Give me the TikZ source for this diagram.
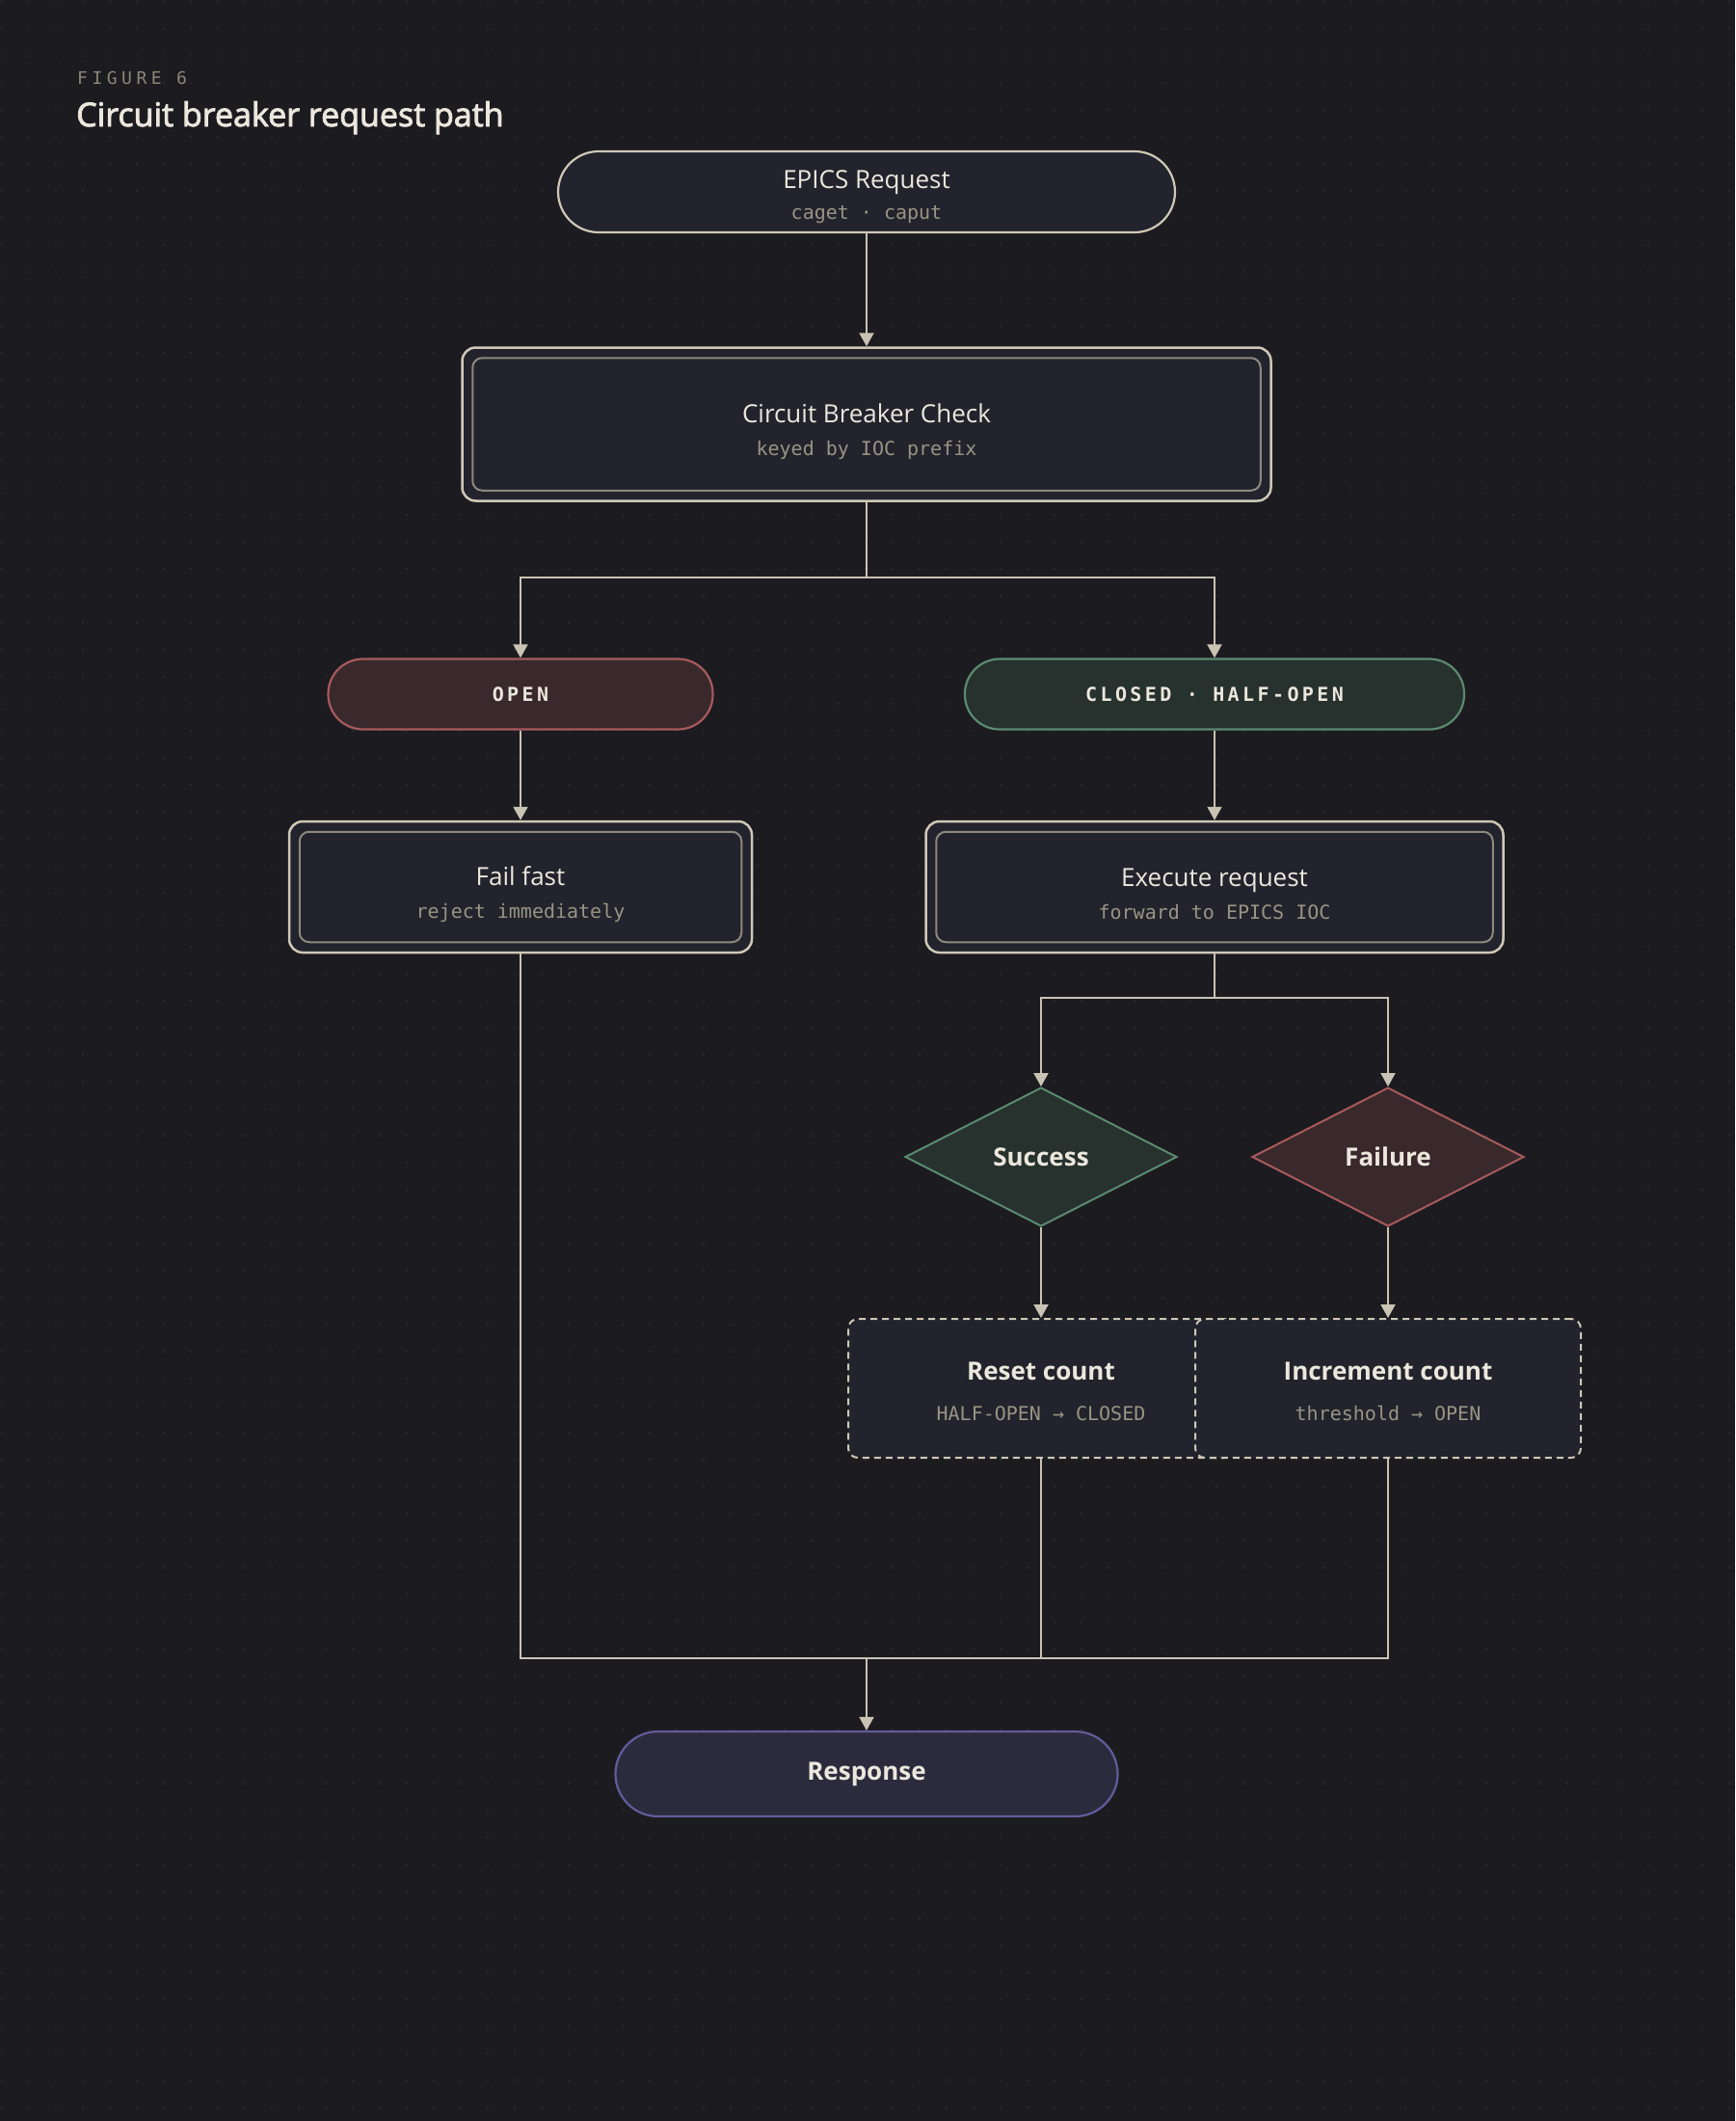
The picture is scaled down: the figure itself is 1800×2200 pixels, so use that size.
\documentclass[tikz,border=0pt]{standalone}
\usepackage{fontspec}
\setmainfont{Open Sans}
\setmonofont{DejaVu Sans Mono}
\usetikzlibrary{arrows.meta,positioning,shapes.geometric}

\definecolor{bgc}{HTML}{1C1B20}
\definecolor{dotc}{HTML}{2A2A31}
\definecolor{ink}{HTML}{ECE7DD}
\definecolor{muted}{HTML}{9A9484}
\definecolor{figc}{HTML}{8C8678}
\definecolor{rim}{HTML}{CFC8B7}
\definecolor{rimin}{HTML}{8E897F}
\definecolor{wire}{HTML}{C9C3B3}
\definecolor{boxfill}{HTML}{22232C}
\definecolor{redfill}{HTML}{3A292C}
\definecolor{redrim}{HTML}{A65A5C}
\definecolor{grnfill}{HTML}{27312E}
\definecolor{grnrim}{HTML}{5B8A6F}
\definecolor{viofill}{HTML}{2C2B3E}
\definecolor{viorim}{HTML}{625C9B}

\newcommand{\labfont}{\fontsize{26}{36}\selectfont}
\newcommand{\subfont}{\ttfamily\fontsize{20}{36}\selectfont\color{muted}}
\newcommand{\tagfont}{\ttfamily\bfseries\fontsize{20}{24}\selectfont\addfontfeature{LetterSpace=17}}

\begin{document}
\begin{tikzpicture}[
  x=1pt, y=-1pt,
  pill/.style={rectangle, rounded corners=#1, draw, line width=2.2pt, inner sep=0pt, text=ink, align=center, font=\labfont},
  dblbox/.style={rectangle, rounded corners=14pt, draw=rim, fill=boxfill, line width=2.5pt, inner sep=0pt},
  innerrim/.style={draw=rimin, line width=2pt, rounded corners=10pt},
  txt/.style={inner sep=0pt, text=ink, align=center, font=\labfont},
  choice/.style={diamond, draw, line width=2pt, inner sep=0pt, minimum width=282pt, minimum height=144pt, text=ink, font=\labfont\bfseries},
  tally/.style={rectangle, rounded corners=10pt, draw=rim, fill=boxfill, dash pattern=on 7pt off 5pt, line width=2pt, inner sep=0pt, minimum width=400pt, minimum height=144pt},
  line/.style={draw=wire, line width=2pt},
  arrow/.style={line, -{Triangle[length=14pt,width=15pt]}}
]
\useasboundingbox (0,0) rectangle (1800,2200);
\fill[bgc] (0,0) rectangle (1800,2200);
% dot grid
\foreach \i in {0,...,64}{
  \foreach \j in {0,...,78}{
    \fill[dotc] (2+28*\i,2+28*\j) circle (1.3);
  }
}

% heading
\node[anchor=base west, inner sep=0pt, text=figc, font=\ttfamily\fontsize{18}{22}\selectfont\addfontfeature{LetterSpace=25}] (fig) at (80,88) {FIGURE 6};
\node[anchor=base west, inner sep=0pt, text=ink, font=\fontsize{34}{40}\selectfont\addfontfeature{FakeBold=2.5}] (title) at (79,131) {Circuit breaker request path};

% nodes
\node[pill=42pt, draw=rim, fill=boxfill, minimum width=640pt, minimum height=84pt] (req) at (899,199) {};
\node[txt] (reqtxt) at ([yshift=-5pt]req.center) {EPICS Request\\[-4pt]{\subfont caget · caput}};
\node[dblbox, minimum width=839pt, minimum height=159pt] (cb) at (899,440) {};
\node[txt] (cbtxt) at ([yshift=-8pt]cb.center) {Circuit Breaker Check\\[-2pt]{\subfont keyed by IOC prefix}};
\node[pill=36pt, draw=redrim, fill=redfill, minimum width=399pt, minimum height=73pt, font=\tagfont] (open) at (540,720) {OPEN};
\node[pill=36pt, draw=grnrim, fill=grnfill, minimum width=518pt, minimum height=73pt, font=\tagfont] (closed) at (1260,720) {CLOSED · HALF-OPEN};
\node[dblbox, minimum width=480pt, minimum height=136pt] (fail) at (540,920) {};
\node[txt] (failtxt) at ([yshift=-8pt]fail.center) {Fail fast\\[-2pt]{\subfont reject immediately}};
\node[dblbox, minimum width=599pt, minimum height=136pt] (exec) at (1260,920) {};
\node[txt] (exectxt) at ([yshift=-7pt]exec.center) {Execute request\\[-2pt]{\subfont forward to EPICS IOC}};
\node[choice, draw=grnrim, fill=grnfill] (ok) at (1080,1200) {Success};
\node[choice, draw=redrim, fill=redfill] (bad) at (1440,1200) {Failure};
\node[tally] (reset) at (1080,1440) {};
\node[txt] (resettxt) at ([yshift=-3pt]reset.center) {\bfseries Reset count\\[6pt]{\subfont HALF-OPEN → CLOSED}};
\node[tally] (incr) at (1440,1440) {};
\node[txt] (incrtxt) at ([yshift=-3pt]incr.center) {\bfseries Increment count\\[6pt]{\subfont threshold → OPEN}};
\node[pill=44pt, draw=viorim, fill=viofill, minimum width=521pt, minimum height=88pt, font=\labfont\bfseries] (resp) at (899,1840) {Response};

\foreach \n in {cb,fail,exec}
  \draw[innerrim] ([shift={(12,12)}]\n.north west) rectangle ([shift={(-12,-12)}]\n.south east);

% connectors
\coordinate (split) at (899,599);
\coordinate (branch) at (1260,1035);
\coordinate (merge) at (899,1720);
\draw[arrow] (req) -- (cb);
\draw[line] (cb) -- (split);
\draw[arrow] (split) -| (open);
\draw[arrow] (split) -| (closed);
\draw[arrow] (open) -- (fail);
\draw[arrow] (closed) -- (exec);
\draw[line] (exec) -- (branch);
\draw[arrow] (branch) -| (ok);
\draw[arrow] (branch) -| (bad);
\draw[arrow] (ok) -- (reset);
\draw[arrow] (bad) -- (incr);
\draw[line] (fail) |- (merge);
\draw[line] (reset) |- (merge);
\draw[line] (incr) |- (merge);
\draw[arrow] (merge) -- (resp);
\end{tikzpicture}
\end{document}
